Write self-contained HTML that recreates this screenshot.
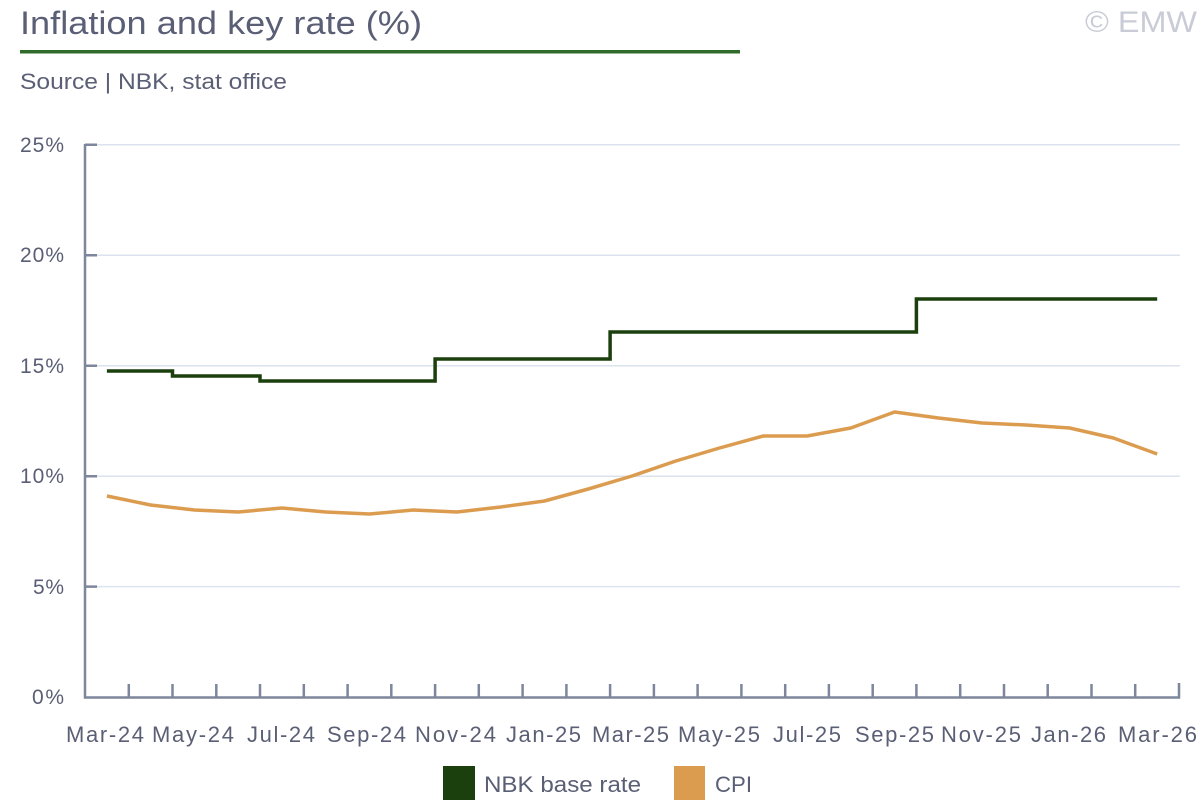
<!DOCTYPE html>
<html><head><meta charset="utf-8"><style>
body{margin:0;background:#fff;width:1200px;height:800px;overflow:hidden;font-family:"Liberation Sans",sans-serif;}
</style></head><body>
<svg width="1200" height="800" xmlns="http://www.w3.org/2000/svg" font-family="Liberation Sans, sans-serif">
<text x="20" y="34" font-size="32" fill="#5a5f75" textLength="402" lengthAdjust="spacingAndGlyphs">Inflation and key rate (%)</text>
<text x="1085" y="32" font-size="30" fill="#c9ccd6" textLength="112" lengthAdjust="spacingAndGlyphs">© EMW</text>
<rect x="20" y="50" width="720" height="3.5" fill="#2f6b2a"/>
<text x="20" y="89" font-size="22" fill="#5a5f75" textLength="267" lengthAdjust="spacingAndGlyphs">Source | NBK, stat office</text>
<g stroke="#dbe3ee" stroke-width="1.5">
<line x1="97" y1="144.7" x2="1180" y2="144.7"/>
<line x1="97" y1="255.2" x2="1180" y2="255.2"/>
<line x1="97" y1="365.7" x2="1180" y2="365.7"/>
<line x1="97" y1="476.2" x2="1180" y2="476.2"/>
<line x1="97" y1="586.6" x2="1180" y2="586.6"/>
</g>
<g stroke="#7d869c" stroke-width="2.5" fill="none">
<path d="M85 144 V697.5 H1179 V683"/>
<path d="M85 144.7 H97 M85 255.2 H97 M85 365.7 H97 M85 476.2 H97 M85 586.6 H97"/>
<path d="M128.8 697 V684 M172.5 697 V684 M216.3 697 V684 M260 697 V684 M303.8 697 V684 M347.6 697 V684 M391.3 697 V684 M435.1 697 V684 M478.8 697 V684 M522.6 697 V684 M566.4 697 V684 M610.1 697 V684 M653.9 697 V684 M697.6 697 V684 M741.4 697 V684 M785.2 697 V684 M828.9 697 V684 M872.7 697 V684 M916.4 697 V684 M960.2 697 V684 M1004 697 V684 M1047.7 697 V684 M1091.5 697 V684 M1135.2 697 V684"/>
</g>
<g font-size="21" fill="#5a5f75" lengthAdjust="spacingAndGlyphs">
<text x="20" y="152" textLength="44">25%</text><text x="20" y="262" textLength="44">20%</text><text x="20" y="373" textLength="44">15%</text>
<text x="20" y="483" textLength="44">10%</text><text x="33" y="594" textLength="31">5%</text><text x="32" y="704" textLength="32">0%</text>
</g>
<g font-size="22" fill="#5a5f75" lengthAdjust="spacingAndGlyphs">
<text x="66" y="742" textLength="78">Mar-24</text><text x="152" y="742" textLength="82">May-24</text><text x="247" y="742" textLength="68">Jul-24</text>
<text x="327" y="742" textLength="79">Sep-24</text><text x="415" y="742" textLength="81">Nov-24</text><text x="506" y="742" textLength="75">Jan-25</text>
<text x="592" y="742" textLength="77">Mar-25</text><text x="678" y="742" textLength="82">May-25</text><text x="773" y="742" textLength="68">Jul-25</text>
<text x="855" y="742" textLength="79">Sep-25</text><text x="941" y="742" textLength="80">Nov-25</text><text x="1031" y="742" textLength="75">Jan-26</text>
<text x="1118" y="742" textLength="79">Mar-26</text>
</g>
<path d="M106.9 371 H172.5 V376 H260 V381 H435.1 V359 H610.1 V332 H916.4 V299 H1157.2" stroke="#1c3f0e" stroke-width="3.5" fill="none"/>
<polyline fill="none" stroke="#dc9c4f" stroke-width="3.5" stroke-linejoin="round" points="106.9,496 150.6,505 194.4,510 238.2,512 281.9,508 325.7,512 369.5,514 413.2,510 457,512 500.7,507 544.5,501 588.3,489 632,476 675.8,461 719.5,448 763.3,436 807.1,436 850.8,428 894.6,412 938.4,418 982.1,423 1025.9,425 1069.6,428 1113.4,438 1157.2,454"/>
<rect x="443" y="766" width="32" height="34" fill="#1c3f0e"/>
<text x="484" y="792" font-size="22" fill="#5a5f75" textLength="157" lengthAdjust="spacingAndGlyphs">NBK base rate</text>
<rect x="674" y="766" width="31" height="34" fill="#dc9c4f"/>
<text x="715" y="792" font-size="22" fill="#5a5f75" textLength="37" lengthAdjust="spacingAndGlyphs">CPI</text>
</svg>
</body></html>
